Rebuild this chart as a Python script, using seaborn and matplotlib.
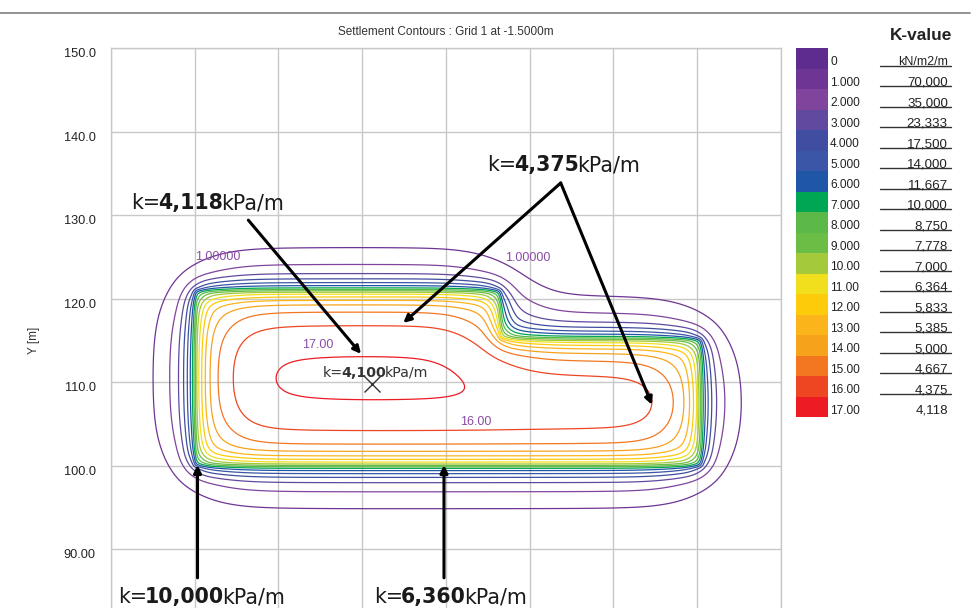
import numpy as np
import matplotlib
matplotlib.use("Agg")
import matplotlib.pyplot as plt
import seaborn as sns
from matplotlib.colors import ListedColormap
from matplotlib import transforms
from matplotlib.lines import Line2D

# ---------------- data ----------------
LEVELS = list(range(18))
LEVEL_LABELS = ["0", "1.000", "2.000", "3.000", "4.000", "5.000", "6.000", "7.000",
                "8.000", "9.000", "10.00", "11.00", "12.00", "13.00", "14.00",
                "15.00", "16.00", "17.00"]
K_VALUES = ["kN/m2/m", "70,000", "35,000", "23,333", "17,500", "14,000", "11,667",
            "10,000", "8,750", "7,778", "7,000", "6,364", "5,833", "5,385", "5,000",
            "4,667", "4,375", "4,118"]
BAND_COLORS = ["#5e2b8f", "#6e3594", "#80449c", "#5f4a9f", "#3f4ea0", "#3b56a6",
               "#1f56a5", "#00a651", "#5cb947", "#6abd45", "#a4c93b", "#f1df1d",
               "#fdcb0a", "#fbb51b", "#f7a21b", "#f37721", "#ee4623", "#ed1c24"]

# raft footprint (L-shape as two rectangles), metres
PART_X0 = [10.0, 46.5]
PART_X1 = [46.5, 70.5]
PART_Y0 = [100.0, 100.0]
PART_Y1 = [121.0, 115.2]
# settlement spreading model (mm weights, spread lengths in m)
SPREAD_WEIGHTS = [2.0, 7.0, 7.4, 1.0]
SPREAD_SIGMAS = [0.25, 1.2, 4.0, 8.0]

Y_TICKS = [90, 100, 110, 120, 130, 140, 150]
Y_TICK_LABELS = ["90.00", "100.0", "110.0", "120.0", "130.0", "140.0", "150.0"]
X_TICKS = [0, 10, 20, 30, 40, 50, 60, 70, 80]

# ---------------- field ----------------
def erf(x):
    s = np.sign(x)
    a = np.abs(x)
    t = 1.0 / (1.0 + 0.3275911 * a)
    y = 1 - (((((1.061405429 * t - 1.453152027) * t) + 1.421413741) * t
              - 0.284496736) * t + 0.254829592) * t * np.exp(-a * a)
    return s * y

def phi(z):
    return 0.5 * (1 + erf(z / np.sqrt(2)))

gx = np.linspace(-5, 85, 901)
gy = np.linspace(75, 155, 801)
F = np.zeros((gy.size, gx.size))
for w, s in zip(SPREAD_WEIGHTS, SPREAD_SIGMAS):
    for x0, x1, y0, y1 in zip(PART_X0, PART_X1, PART_Y0, PART_Y1):
        fx = phi((gx - x0) / s) - phi((gx - x1) / s)
        fy = phi((gy - y0) / s) - phi((gy - y1) / s)
        F += w * np.outer(fy, fx)

# ---------------- figure ----------------
sns.set_theme(style="whitegrid")
plt.rcParams["font.family"] = ["Liberation Sans", "DejaVu Sans"]

W, H = 978, 608
fig = plt.figure(figsize=(W / 100, H / 100), dpi=100)
ax = fig.add_axes([111 / W, 1 - 633 / H, 670 / W, 585 / H])

ax.contour(gx, gy, F, levels=LEVELS[1:], colors=BAND_COLORS[1:], linewidths=0.9)

ax.set_xlim(0, 80)
ax.set_ylim(80, 150)
ax.set_xticks(X_TICKS)
ax.set_yticks(Y_TICKS)
ax.set_yticklabels(Y_TICK_LABELS)
ax.tick_params(axis="both", length=0)
ax.tick_params(axis="x", labelbottom=False)
ax.tick_params(axis="y", pad=11, labelsize=9.2, labelcolor="#222222")
ax.grid(True, color="#c8c8c8", lw=1.0)
for sp in ax.spines.values():
    sp.set_color("#c8c8c8")
    sp.set_linewidth(1.0)
plt.setp(ax.get_yticklabels(), va="top")
ax.set_ylabel("Y [m]", fontsize=8.5, color="#333333")
ax.yaxis.set_label_coords(-71 / 670, 0.5)

fig.text(446 / W, 1 - 32 / H, "Settlement Contours : Grid 1 at -1.5000m",
         ha="center", va="center", fontsize=8.5, color="#333333")
fig.add_artist(Line2D([0, 0.992], [1 - 13 / H] * 2, color="#808080", lw=1.2,
                      transform=fig.transFigure))

# contour value labels
PURPLE = "#8a4ca6"
ax.text(24.7, 114.5, "17.00", color=PURPLE, fontsize=9, ha="center", va="center")
ax.text(43.6, 105.3, "16.00", color=PURPLE, fontsize=9, ha="center", va="center")
ax.text(12.8, 125.0, "1.00000", color=PURPLE, fontsize=9, ha="center", va="center")
ax.text(49.8, 124.9, "1.00000", color=PURPLE, fontsize=9, ha="center", va="center")

# k annotations
def ktext(x, y, value, fs=14.8, color="#1a1a1a", gap=-2.0):
    kw = dict(fontsize=fs, color=color, family="DejaVu Sans")
    t1 = ax.text(x, y, "k=", ha="left", va="bottom", **kw)
    t2 = ax.annotate(value, xy=(1, 0), xycoords=t1, xytext=(gap, 0),
                     textcoords="offset pixels", ha="left", va="bottom",
                     fontweight="bold", **kw)
    ax.annotate("kPa/m", xy=(1, 0), xycoords=t2, xytext=(gap, 0),
                textcoords="offset pixels", ha="left", va="bottom", **kw)

ktext(2.4, 130.2, "4,118")
ktext(44.9, 134.8, "4,375")
ktext(0.85, 83.1, "10,000")
ktext(31.4, 83.1, "6,360")
ktext(25.3, 110.3, "4,100", fs=10.2, color="#333333", gap=-1.4)
ax.plot([31.16], [109.8], marker="x", ms=11, mew=1.0, color="#333333", ls="none")

ARROWS = [((16.4, 129.4), (29.85, 113.4)),
          ((53.7, 133.85), (34.9, 117.1)),
          ((53.7, 133.85), (64.6, 107.3)),
          ((10.33, 86.6), (10.33, 100.1)),
          ((39.76, 86.6), (39.76, 100.1))]
for start, end in ARROWS:
    ax.annotate("", xy=end, xytext=start,
                arrowprops=dict(arrowstyle="-|>", lw=2.2, color="black",
                                mutation_scale=11, shrinkA=0, shrinkB=0))

# ---------------- colour legend ----------------
cax = fig.add_axes([796 / W, 1 - 417 / H, 32 / W, 369 / H])
sns.heatmap(np.array(LEVELS).reshape(-1, 1), ax=cax, cmap=ListedColormap(BAND_COLORS),
            vmin=-0.5, vmax=17.5, cbar=False, xticklabels=False,
            yticklabels=LEVEL_LABELS)
cax.yaxis.tick_right()
cax.set_yticks(np.arange(18) + 0.7)
cax.set_yticklabels(LEVEL_LABELS, rotation=0, fontsize=8.6, color="#222222")
cax.tick_params(axis="y", length=0, pad=1.5)
plt.setp(cax.get_yticklabels(), va="center", ha="left")

blend = transforms.blended_transform_factory(fig.transFigure, cax.transData)
fig.text(921 / W, 1 - 35.5 / H, "K-value", ha="center", va="center",
         fontsize=12.4, fontweight="bold", color="#222222")
for i, kv in enumerate(K_VALUES):
    fig.text(948 / W, i + 0.7, kv, transform=blend, ha="right", va="center",
             fontsize=9.0 if i == 0 else 9.6, color="#222222")
    if i < len(K_VALUES) - 1:
        fig.add_artist(Line2D([880 / W, 951 / W], [i + 0.87] * 2, transform=blend,
                              color="#333333", lw=1.0))

fig.savefig("out.png", dpi=100)
